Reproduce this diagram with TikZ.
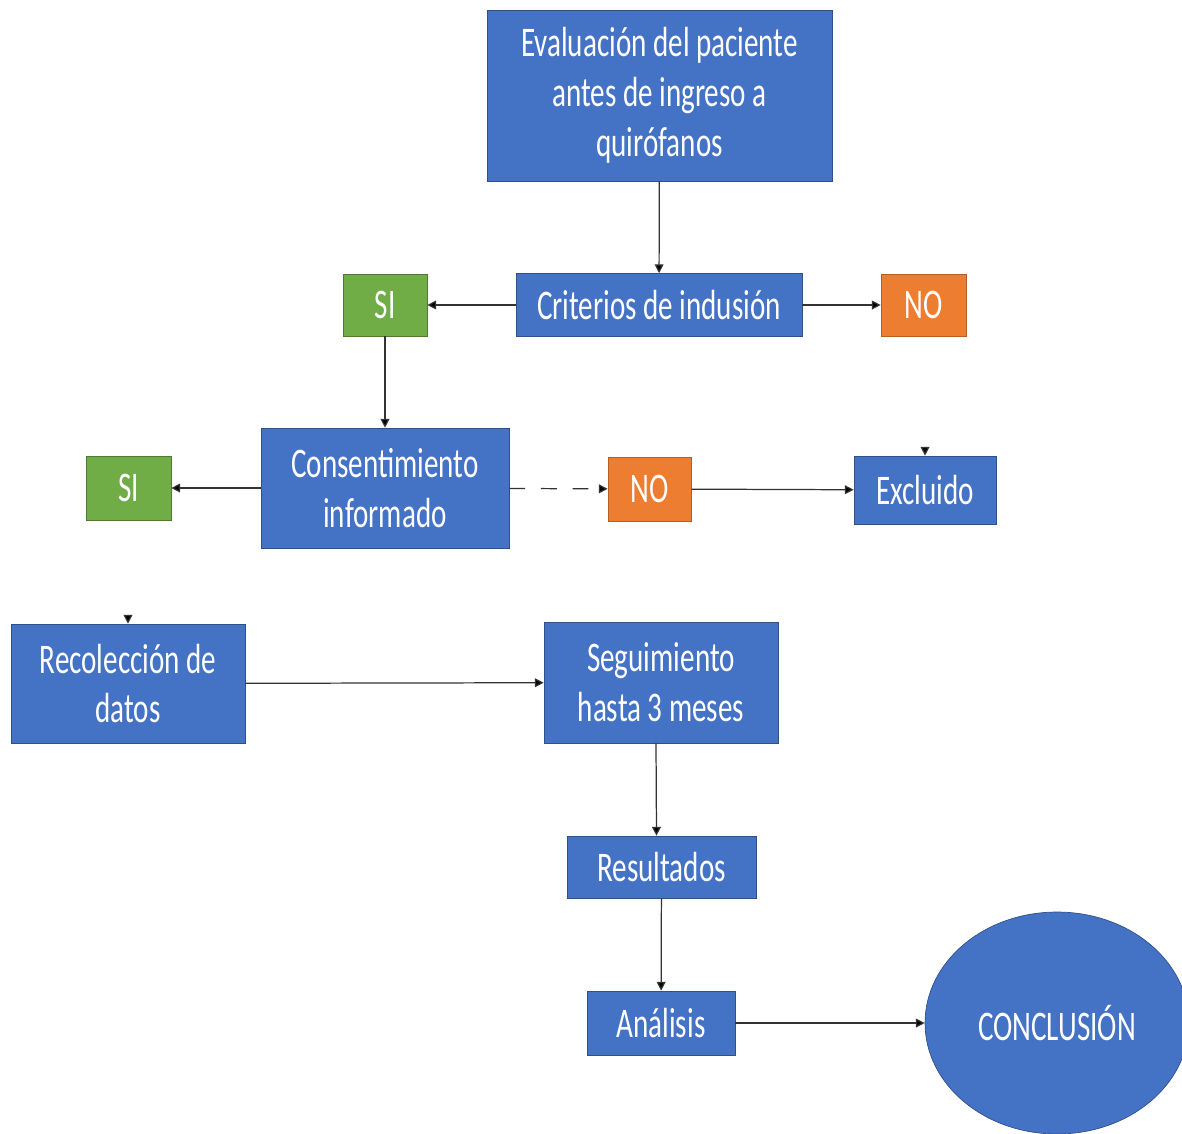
\documentclass[tikz,border=0pt]{standalone}
\usepackage{fontspec}
\setmainfont[FakeStretch=0.69]{Carlito}
\usepackage{tikz}
\usetikzlibrary{shapes.geometric, arrows}
\usetikzlibrary{arrows.meta, positioning}
\usepackage{xcolor}
\definecolor{boxblue}{HTML}{4472C4}
\definecolor{boxgreen}{HTML}{70AD47}
\definecolor{boxorange}{HTML}{ED7D31}

\begin{document}
\begin{tikzpicture}[
      x=0.02cm, y=-0.02cm,
      blk/.style={align=center, draw=boxblue!70!black, fill=boxblue, text=white, inner sep=2pt, font=\fontsize{24}{28.4}\selectfont},
      yes/.style={blk, draw=boxgreen!70!black, fill=boxgreen},
      nope/.style={blk, draw=boxorange!75!black, fill=boxorange},
      flow/.style={draw=black!80, line width=0.7pt, -{Triangle[length=5pt, width=5pt, fill=black]}}
    ]

    \useasboundingbox[fill=white] (0,0) rectangle (1182,1133);

    % Nodes
    \node[blk, minimum width=6.9cm, minimum height=3.42cm] (eval) at (659.5, 95.5) {Evaluación del paciente\\antes de ingreso a\\quirófanos};

    \node[blk, minimum width=5.72cm, minimum height=1.26cm] (crit) at (659, 305) {Criterios de indusión};

    \node[yes, minimum width=1.68cm, minimum height=1.24cm] (si1) at (385, 305) {SI};

    \node[nope, minimum width=1.7cm, minimum height=1.24cm] (no1) at (923.5, 305) {NO};

    \node[blk, minimum width=4.96cm, minimum height=2.4cm] (consent) at (385, 488) {Consentimiento\\informado};

    \node[yes, minimum width=1.7cm, minimum height=1.28cm] (si2) at (128.5, 488) {SI};

    \node[nope, minimum width=1.66cm, minimum height=1.28cm] (no2) at (649.5, 489) {NO};

    \node[blk, minimum width=2.84cm, minimum height=1.36cm] (excl) at (925, 490) {Excluido};

    \node[blk, minimum width=4.68cm, minimum height=2.38cm] (recol) at (128, 683.5) {Recolección de\\datos};

    \node[blk, minimum width=4.68cm, minimum height=2.42cm] (seg) at (661, 682.5) {Seguimiento\\hasta 3 meses};

    \node[blk, minimum width=3.78cm, minimum height=1.24cm] (res) at (661.5, 867) {Resultados};

    \node[blk, minimum width=2.96cm, minimum height=1.28cm] (anal) at (661, 1023) {Análisis};

    \node[blk, ellipse, inner sep=0pt, minimum width=5.28cm, minimum height=4.44cm] (concl) at (1057, 1023) {CONCLUSIÓN};

    % Loose arrow tips
    \coordinate[above=5pt of excl.north] (exclstub);
    \coordinate[above=5pt of recol.north] (recolstub);

    % Arrows
    \draw[flow] (eval) -- (crit);
    \draw[flow] (crit) -- (si1);
    \draw[flow] (crit) -- (no1);
    \draw[flow] (si1) -- (consent);
    \draw[flow] (consent) -- (si2);
    \draw[flow, dash pattern=on 9pt off 9pt] (consent) -- (no2);
    \draw[flow] (no2) -- (excl);
    \draw[flow] (exclstub) -- (excl.north);
    \draw[flow] (recolstub) -- (recol.north);
    \draw[flow] (recol) -- (seg);
    \draw[flow] ([xshift=-0.1cm]seg.south) -- ([xshift=-0.1cm]res.north);
    \draw[flow] (res) -- (anal);
    \draw[flow] (anal) -- (concl);

  \end{tikzpicture}
\end{document}
